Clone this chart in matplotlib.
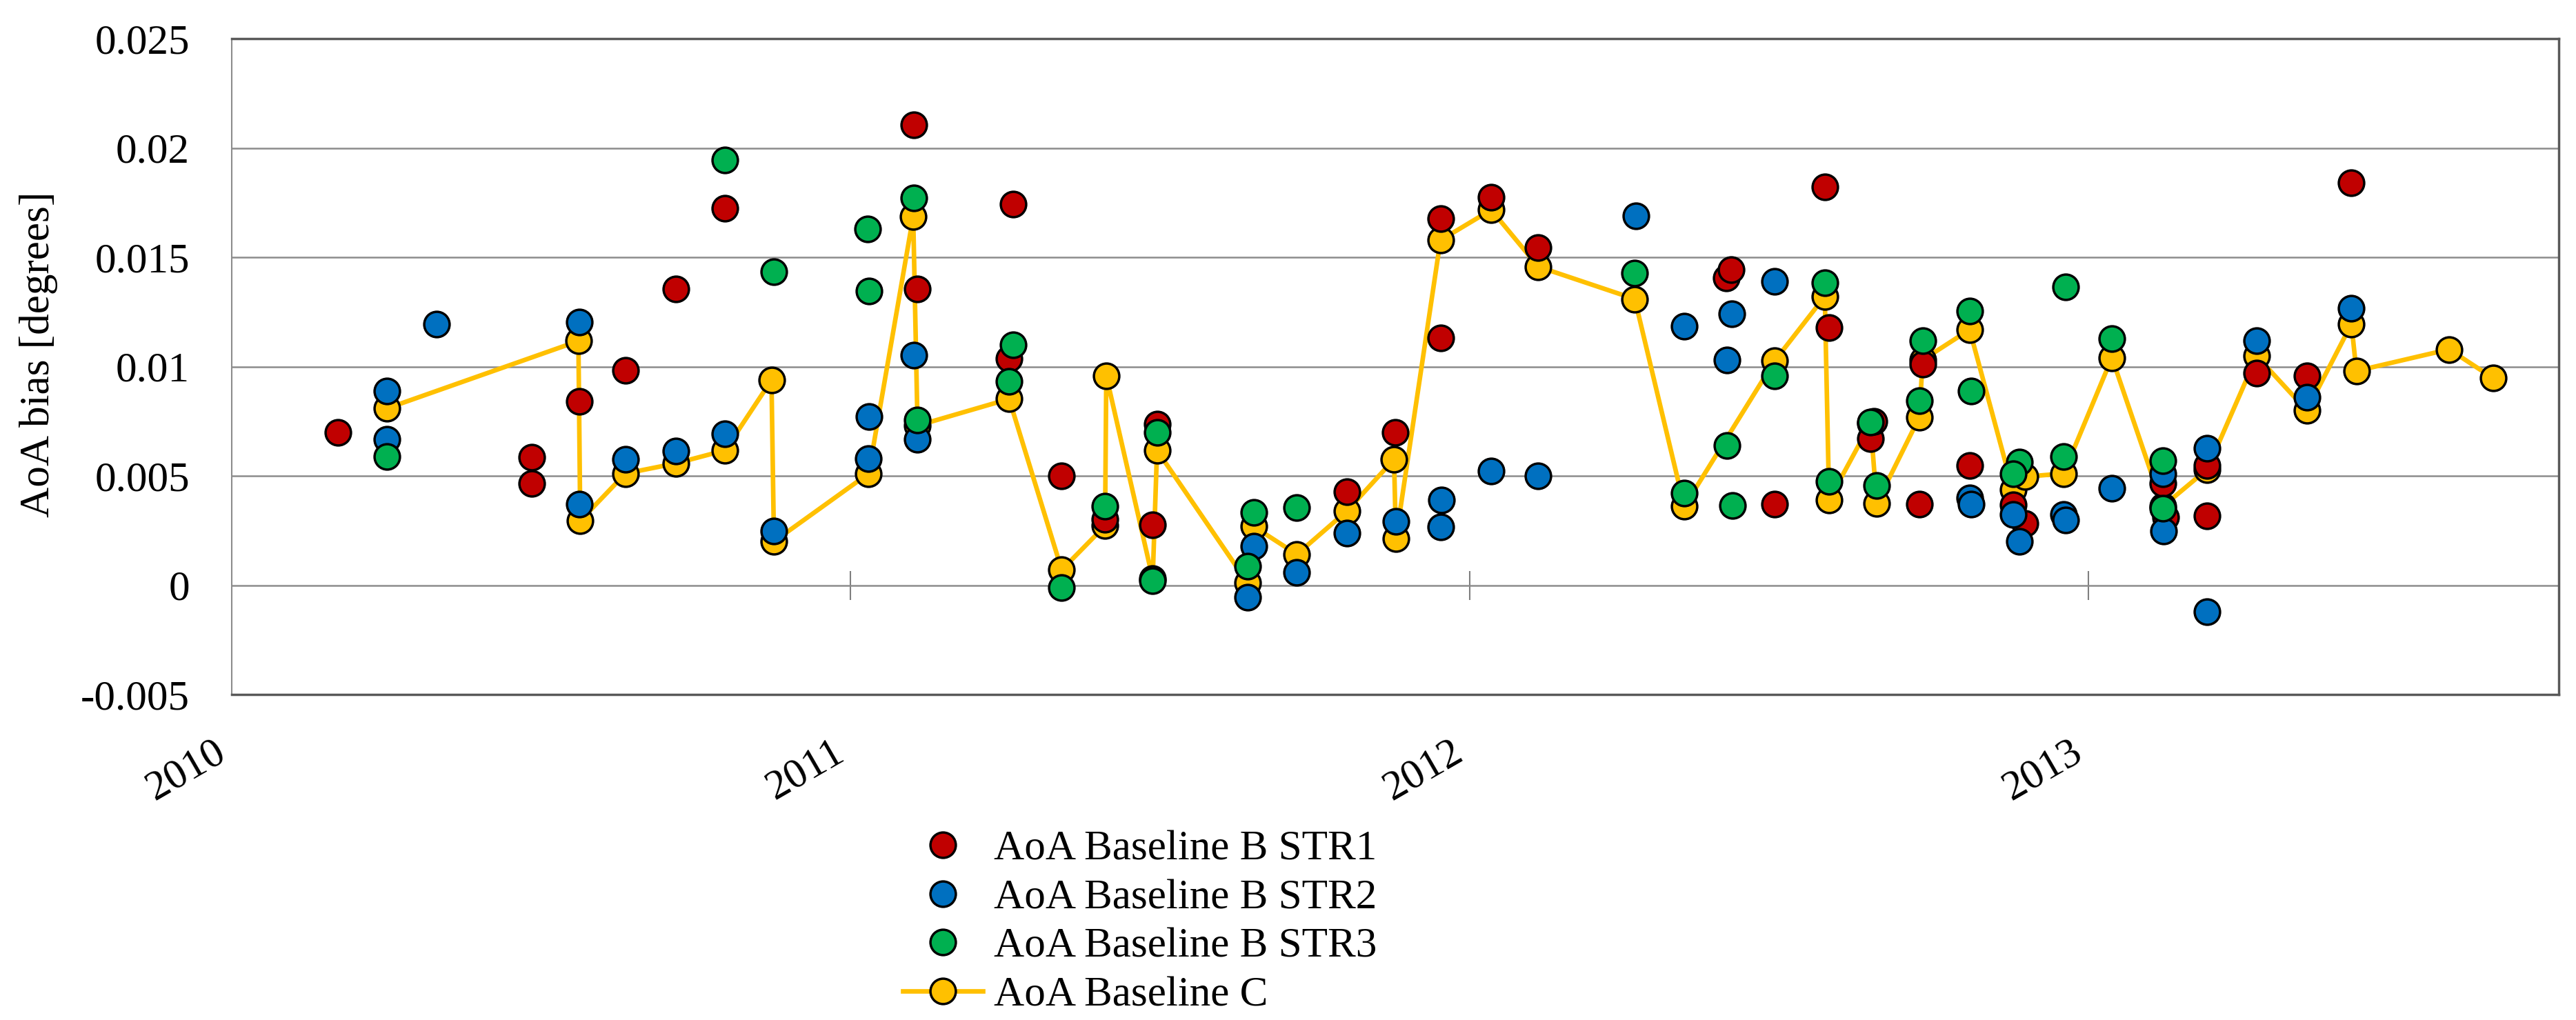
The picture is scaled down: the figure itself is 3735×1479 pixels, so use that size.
import matplotlib
matplotlib.use('Agg')
import matplotlib.pyplot as plt
from matplotlib.lines import Line2D

plt.rcParams['font.family'] = ['Liberation Serif', 'DejaVu Serif']

# dates as decimal years, bias in degrees
red_x = [2010.172, 2010.485, 2010.485, 2010.562, 2010.636, 2010.717, 2010.797, 2011.102, 2011.108, 2011.262,
         2011.256, 2011.341, 2011.411, 2011.495, 2011.488, 2011.802, 2011.880, 2011.953, 2011.953, 2012.035,
         2012.111, 2012.415, 2012.423, 2012.493, 2012.574, 2012.581, 2012.648, 2012.653, 2012.727, 2012.732,
         2012.808, 2012.878, 2012.897, 2013.120, 2013.125, 2013.192, 2013.192, 2013.272, 2013.353, 2013.425]
red_y = [0.0070, 0.00584, 0.00466, 0.00841, 0.00983, 0.01354, 0.01725, 0.02107, 0.01354, 0.01744,
         0.01038, 0.00499, 0.0030, 0.00738, 0.00277, 0.00428, 0.0070, 0.01676, 0.01132, 0.01775,
         0.01545, 0.01404, 0.01442, 0.00372, 0.01823, 0.01177, 0.0067, 0.0075, 0.00372, 0.0101,
         0.00549, 0.00368, 0.00284, 0.00466, 0.0031, 0.00549, 0.00318, 0.0097, 0.00958, 0.0184]

blue_x = [2010.251, 2010.251, 2010.331, 2010.562, 2010.562, 2010.636, 2010.717, 2010.797, 2010.876, 2011.030,
          2011.029, 2011.102, 2011.108, 2011.651, 2011.641, 2011.721, 2011.802, 2011.881, 2011.955, 2011.953,
          2012.035, 2012.111, 2012.269, 2012.347, 2012.424, 2012.416, 2012.493, 2012.808, 2012.810, 2012.878,
          2012.889, 2012.960, 2012.963, 2013.038, 2013.120, 2013.121, 2013.192, 2013.192, 2013.272, 2013.353,
          2013.425]
blue_y = [0.00887, 0.00666, 0.01195, 0.01204, 0.00372, 0.00576, 0.00614, 0.00693, 0.00247, 0.00772,
          0.00579, 0.01053, 0.00667, 0.00179, -0.00056, 0.0006, 0.00239, 0.00292, 0.0039, 0.00266,
          0.00523, 0.00499, 0.01691, 0.01185, 0.01241, 0.01029, 0.01389, 0.00398, 0.00372, 0.00322,
          0.00201, 0.00322, 0.00297, 0.00443, 0.0051, 0.00247, 0.00625, -0.00121, 0.0112, 0.00859,
          0.01268]

green_x = [2010.251, 2010.797, 2010.876, 2011.027, 2011.030, 2011.102, 2011.108, 2011.262, 2011.256, 2011.341,
           2011.411, 2011.495, 2011.488, 2011.651, 2011.641, 2011.721, 2012.267, 2012.347, 2012.416, 2012.425,
           2012.493, 2012.574, 2012.581, 2012.648, 2012.658, 2012.727, 2012.732, 2012.808, 2012.810, 2012.889,
           2012.878, 2012.960, 2012.963, 2013.038, 2013.120, 2013.120]
green_y = [0.0059, 0.01946, 0.01434, 0.01628, 0.01346, 0.01772, 0.00756, 0.01101, 0.00932, -0.0001,
           0.0036, 0.0070, 0.0002, 0.00333, 0.00088, 0.00356, 0.01427, 0.00421, 0.0064, 0.00365,
           0.00958, 0.01384, 0.00474, 0.00746, 0.00455, 0.00844, 0.01117, 0.01253, 0.00887, 0.00564,
           0.00511, 0.00587, 0.01363, 0.01129, 0.00569, 0.00353]

yel_x = [2010.251, 2010.560, 2010.563, 2010.636, 2010.717, 2010.797, 2010.872, 2010.876, 2011.029, 2011.101,
         2011.108, 2011.256, 2011.341, 2011.411, 2011.413, 2011.488, 2011.495, 2011.641, 2011.651, 2011.721,
         2011.802, 2011.878, 2011.881, 2011.953, 2012.035, 2012.111, 2012.267, 2012.347, 2012.493, 2012.574,
         2012.581, 2012.648, 2012.658, 2012.727, 2012.732, 2012.808, 2012.878, 2012.897, 2012.960, 2013.038,
         2013.120, 2013.192, 2013.272, 2013.353, 2013.425, 2013.433, 2013.583, 2013.654]
yel_y = [0.00809, 0.01117, 0.00295, 0.00511, 0.00557, 0.00617, 0.00938, 0.0020, 0.00511, 0.01687,
         0.0073, 0.00852, 0.0007, 0.00272, 0.00958, 0.0003, 0.00617, 0.00012, 0.00269, 0.00141,
         0.0034, 0.00576, 0.00212, 0.01578, 0.01717, 0.01457, 0.01309, 0.0036, 0.01026, 0.01321,
         0.0039, 0.0074, 0.00375, 0.00769, 0.0103, 0.01169, 0.00436, 0.00496, 0.00511, 0.01041,
         0.0036, 0.0053, 0.01048, 0.00799, 0.01195, 0.0098, 0.01079, 0.00947]

labels = ['AoA Baseline B STR1', 'AoA Baseline B STR2', 'AoA Baseline B STR3', 'AoA Baseline C']
years = [2010, 2011, 2012, 2013]
yticks = [-0.005, 0, 0.005, 0.01, 0.015, 0.02, 0.025]
ytick_labels = ['-0.005', '0', '0.005', '0.01', '0.015', '0.02', '0.025']

c_red, c_blue, c_green, c_yel = '#C00000', '#0070C0', '#00B050', '#FFC000'
FS = 44
ms, mew = 26.5, 2.5
lw_c = 4.8

fig = plt.figure(figsize=(37.35, 14.79), dpi=100)
ax = fig.add_axes([0.0900, 0.3191, 0.9033, 0.6430])

ax.plot(yel_x, yel_y, color=c_yel, lw=lw_c, marker='o', ms=ms, mfc=c_yel, mec='black', mew=mew, zorder=3)
ax.plot(red_x, red_y, ls='none', marker='o', ms=ms, mfc=c_red, mec='black', mew=mew, zorder=4)
ax.plot(blue_x, blue_y, ls='none', marker='o', ms=ms, mfc=c_blue, mec='black', mew=mew, zorder=5)
ax.plot(green_x, green_y, ls='none', marker='o', ms=ms, mfc=c_green, mec='black', mew=mew, zorder=6)

ax.set_xlim(2010.0, 2013.76)
ax.set_ylim(-0.005, 0.025)
ax.set_yticks(yticks)
ax.set_yticklabels(ytick_labels)
ax.yaxis.grid(True, color='#8c8c8c', lw=1.8)
ax.set_axisbelow(True)

ax.set_xticks(years)
ax.set_xticklabels([str(y) for y in years], rotation=30, ha='right')
ax.tick_params(axis='x', length=0, pad=40, labelsize=FS)
ax.tick_params(axis='y', length=0, pad=44, labelsize=FS)

for s in ['top', 'bottom', 'right']:
    ax.spines[s].set_color('#595959')
    ax.spines[s].set_linewidth(2.5)
ax.spines['left'].set_color('#8c8c8c')
ax.spines['left'].set_linewidth(1.5)

# year tick marks sit on the zero line
sec = ax.secondary_xaxis(0, transform=ax.transData)
sec.set_xticks(years[1:])
sec.tick_params(direction='inout', length=30, width=1.5, color='#7f7f7f',
                labelbottom=False, labeltop=False)
sec.spines['bottom'].set_visible(False)
sec.spines['top'].set_visible(False)

fig.text(0.015, 1 - 514 / 1479, 'AoA bias [degrees]', rotation=90, ha='center', va='center', fontsize=FS)

handles = [
    Line2D([], [], ls='none', marker='o', ms=ms, mfc=c_red, mec='black', mew=mew),
    Line2D([], [], ls='none', marker='o', ms=ms, mfc=c_blue, mec='black', mew=mew),
    Line2D([], [], ls='none', marker='o', ms=ms, mfc=c_green, mec='black', mew=mew),
    Line2D([], [], color=c_yel, lw=lw_c, marker='o', ms=ms, mfc=c_yel, mec='black', mew=mew),
]
fig.legend(handles, labels, loc='upper left', bbox_to_anchor=(0.3505, 0.186), frameon=False,
           fontsize=FS, handlelength=1.9, handletextpad=0.25, labelspacing=0.24,
           borderpad=0, borderaxespad=0)

fig.savefig('out.png', dpi=100)
